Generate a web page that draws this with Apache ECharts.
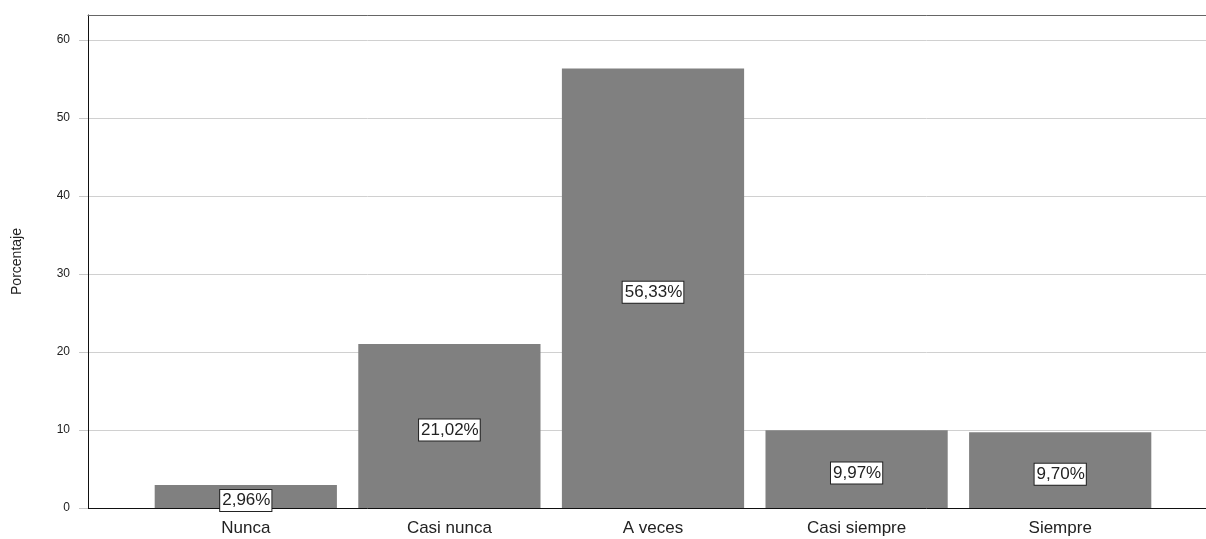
<!DOCTYPE html>
<html>
<head>
<meta charset="utf-8">
<script src="https://cdn.jsdelivr.net/npm/echarts@6/dist/echarts.min.js"></script>
<style>
html,body{margin:0;padding:0;background:#fff;}
#chart{width:1206px;height:539px;}
</style>
</head>
<body>
<div id="chart"></div>
<script>
const categories = ['Nunca', 'Casi nunca', 'A veces', 'Casi siempre', 'Siempre'];
const percentages = [2.96, 21.02, 56.33, 9.97, 9.70];
const yTicks = [0, 10, 20, 30, 40, 50, 60];
const yAxisTitle = 'Porcentaje';

const YMAX = 63.2;
const chart = echarts.init(document.getElementById('chart'), null, {renderer: 'canvas'});
const fmt = v => v.toFixed(2).replace('.', ',') + '%';

chart.setOption({
  animation: false,
  backgroundColor: '#ffffff',
  grid: [
    {left: 88, right: 0, top: 15, bottom: 31},
    {left: 144, right: 44, top: 15, bottom: 31}
  ],
  xAxis: [
    {gridIndex: 0, type: 'value', min: 0, max: 1, axisLine: {show: true, lineStyle: {color: '#111', width: 1}},
     axisTick: {show: false}, axisLabel: {show: false}, splitLine: {show: false}},
    {gridIndex: 1, type: 'category', data: categories, axisLine: {show: false}, axisTick: {show: false},
     axisLabel: {fontFamily: 'Liberation Sans, Arial, sans-serif', fontSize: 17, color: '#222', margin: 12},
     splitLine: {show: false}},
    {gridIndex: 0, type: 'value', position: 'top', min: 0, max: 1, axisLine: {show: true, lineStyle: {color: '#666', width: 1}},
     axisTick: {show: false}, axisLabel: {show: false}, splitLine: {show: false}}
  ],
  yAxis: [
    {gridIndex: 0, type: 'value', min: 0, max: YMAX, interval: 10,
     name: yAxisTitle, nameLocation: 'middle', nameGap: 64,
     nameTextStyle: {fontFamily: 'Liberation Sans Narrow, Liberation Sans, Arial, sans-serif', fontSize: 14, color: '#222'},
     axisLine: {show: true, lineStyle: {color: '#111', width: 1}},
     axisTick: {show: true, length: 9, lineStyle: {color: '#c8c8c8'}},
     axisLabel: {fontFamily: 'Liberation Sans, Arial, sans-serif', fontSize: 12, color: '#222', margin: 18, showMaxLabel: false,
       formatter: v => yTicks.includes(v) ? String(v) : ''},
     splitLine: {show: true, lineStyle: {color: '#d0d0d0', width: 1}}},
    {gridIndex: 1, type: 'value', min: 0, max: YMAX, show: false, splitLine: {show: false}}
  ],
  series: [{
    type: 'bar',
    xAxisIndex: 1, yAxisIndex: 1,
    data: percentages,
    barCategoryGap: '10.5%',
    itemStyle: {color: '#808080'},
    label: {
      show: true, position: 'inside', offset: [0, 4],
      formatter: p => fmt(p.value),
      fontFamily: 'Liberation Sans, Arial, sans-serif', fontSize: 17, color: '#222',
      backgroundColor: '#ffffff', borderColor: '#222', borderWidth: 1, padding: [3, 1, 1, 2]
    }
  }]
});
</script>
</body>
</html>
